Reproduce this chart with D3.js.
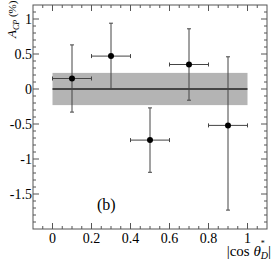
<!DOCTYPE html>
<html>
<head>
<meta charset="utf-8">
<script src="https://d3js.org/d3.v7.min.js"></script>
<style>
  body { margin: 0; background: #fff; }
  text { font-family: 'Liberation Serif', 'DejaVu Serif', serif; fill: #000; }
</style>
</head>
<body>
<script>
// bins in |cos theta*_D|
var binCenters = [0.1, 0.3, 0.5, 0.7, 0.9];
var binHalfWidth = [0.1, 0.1, 0.1, 0.1, 0.1];
var acpValues = [0.15, 0.47, -0.73, 0.35, -0.52];
var errUp = [0.48, 0.47, 0.46, 0.51, 0.98];
var errDown = [0.48, 0.47, 0.46, 0.51, 1.21];
// average band
var avgValue = 0;
var avgErr = 0.23;
var avgRange = [0, 1];
var xTicks = [0, 0.2, 0.4, 0.6, 0.8, 1];
var yTicks = [1, 0.5, 0, -0.5, -1, -1.5];

var W = 274, H = 261;
var mLeft = 33, mTop = 5, mRight = 267, mBottom = 229;

var svg = d3.select(document.body).append("svg")
  .attr("width", W).attr("height", H);

var x = d3.scaleLinear().domain([-0.1, 1.1]).range([mLeft, mRight]);
var y = d3.scaleLinear().domain([-2, 1.2]).range([mBottom, mTop]);

var axisCol = "#555";

// band
svg.append("rect")
  .attr("x", x(avgRange[0])).attr("width", x(avgRange[1]) - x(avgRange[0]))
  .attr("y", y(avgValue + avgErr)).attr("height", y(avgValue - avgErr) - y(avgValue + avgErr))
  .attr("fill", "#b4b4b4");
svg.append("line")
  .attr("x1", x(avgRange[0])).attr("x2", x(avgRange[1]))
  .attr("y1", y(avgValue)).attr("y2", y(avgValue))
  .attr("stroke", "#222").attr("stroke-width", 1.6);

// frame and ticks
var minorX = d3.range(-0.05, 1.1, 0.05).filter(function (v) { return Math.abs(Math.round(v * 5) - v * 5) > 0.01; });
var minorY = d3.range(-1.9, 1.2, 0.1).filter(function (v) { return Math.abs(Math.round(v * 2) - v * 2) > 0.01; });

var g = svg.append("g").attr("stroke", axisCol).attr("stroke-width", 1);
g.append("rect").attr("x", mLeft).attr("y", mTop).attr("width", mRight - mLeft).attr("height", mBottom - mTop)
  .attr("fill", "none");

function tickX(v, len) {
  g.append("line").attr("x1", x(v)).attr("x2", x(v)).attr("y1", mBottom).attr("y2", mBottom - len);
  g.append("line").attr("x1", x(v)).attr("x2", x(v)).attr("y1", mTop).attr("y2", mTop + len);
}
function tickY(v, len) {
  g.append("line").attr("y1", y(v)).attr("y2", y(v)).attr("x1", mLeft).attr("x2", mLeft + len);
  g.append("line").attr("y1", y(v)).attr("y2", y(v)).attr("x1", mRight).attr("x2", mRight - len);
}
xTicks.forEach(function (v) { tickX(v, 6); });
minorX.forEach(function (v) { tickX(v, 3); });
yTicks.forEach(function (v) { tickY(v, 6); });
minorY.forEach(function (v) { tickY(v, 3); });

// tick labels
svg.append("g").selectAll("text").data(xTicks).enter().append("text")
  .attr("x", function (d) { return x(d); }).attr("y", mBottom + 14)
  .attr("text-anchor", "middle").attr("font-size", 14)
  .text(function (d) { return d; });
svg.append("g").selectAll("text").data(yTicks).enter().append("text")
  .attr("x", mLeft - 1).attr("y", function (d) { return y(d) + 5; })
  .attr("text-anchor", "end").attr("font-size", 14)
  .text(function (d) { return d; });

// error bars
var pts = binCenters.map(function (c, i) {
  return { x: c, hw: binHalfWidth[i], v: acpValues[i], up: errUp[i], dn: errDown[i] };
});
var eb = svg.append("g").attr("stroke", "#444").attr("stroke-width", 1);
pts.forEach(function (p) {
  eb.append("line").attr("x1", x(p.x - p.hw)).attr("x2", x(p.x + p.hw)).attr("y1", y(p.v)).attr("y2", y(p.v));
  eb.append("line").attr("x1", x(p.x)).attr("x2", x(p.x)).attr("y1", y(p.v + p.up)).attr("y2", y(p.v - p.dn));
  [x(p.x - p.hw), x(p.x + p.hw)].forEach(function (xx) {
    eb.append("line").attr("x1", xx).attr("x2", xx).attr("y1", y(p.v) - 2).attr("y2", y(p.v) + 2);
  });
  [y(p.v + p.up), y(p.v - p.dn)].forEach(function (yy) {
    eb.append("line").attr("y1", yy).attr("y2", yy).attr("x1", x(p.x) - 2).attr("x2", x(p.x) + 2);
  });
});
svg.append("g").selectAll("circle").data(pts).enter().append("circle")
  .attr("cx", function (d) { return x(d.x); }).attr("cy", function (d) { return y(d.v); })
  .attr("r", 3).attr("fill", "#000");

// labels
svg.append("text").attr("x", 97).attr("y", 210).attr("font-size", 16).text("(b)");

var yl = svg.append("text").attr("transform", "translate(16,38) rotate(-90)")
  .attr("font-size", 13);
yl.append("tspan").attr("font-style", "italic").text("A");
yl.append("tspan").attr("font-size", 8).attr("font-style", "italic").attr("dy", 3).text("CP");
yl.append("tspan").attr("font-size", 11).attr("dy", -3).text(" (%)");

var xl = svg.append("text").attr("x", 271).attr("y", 256).attr("text-anchor", "end").attr("font-size", 15);
xl.append("tspan").text("|cos ");
xl.append("tspan").attr("font-style", "italic").text("θ");
xl.append("tspan").attr("font-size", 8).attr("dy", -10).attr("dx", 0).text("*");
xl.append("tspan").attr("font-size", 10).attr("font-style", "italic").attr("dy", 13).attr("dx", -4).text("D");
xl.append("tspan").attr("dy", -3).text("|");
</script>
</body>
</html>
